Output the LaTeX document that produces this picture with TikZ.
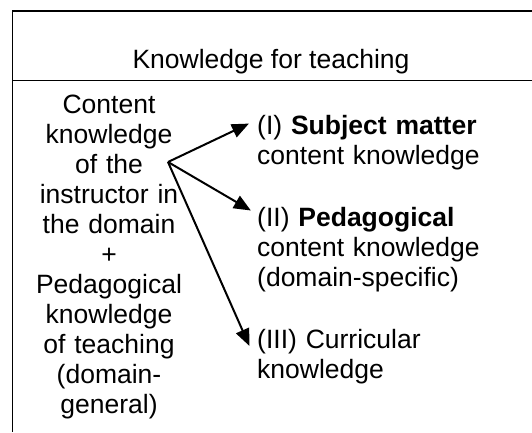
\documentclass[tikz,border=0pt]{standalone}
\usepackage{fontspec}
\setmainfont{Liberation Sans}
\usetikzlibrary{arrows.meta}
\begin{document}
\begin{tikzpicture}[x=1pt,y=-1pt,
  txt/.style={font=\fontsize{26.5}{30}\selectfont, inner sep=0pt},
  rule/.style={line width=1.8pt},
  branch/.style={line width=2pt, -{Triangle[length=17pt,width=14pt]}, shorten >=-1pt}]
\useasboundingbox (0,0) rectangle (532,432);
% table frame: top rule, header divider and left edge
\draw[rule] (12,11) -- (532,11);
\draw[rule] (12,80.5) -- (532,80.5);
\draw[line width=1.2pt] (12.5,10.1) -- (12.5,432);
% header
\node[txt, anchor=base] (head) at (271,68) {Knowledge for teaching};
% left column
\node[txt, anchor=base, text width=200pt, align=center] (base) at (109,113)
  {Content\\knowledge\\of the\\instructor in\\the domain\\+\\Pedagogical\\knowledge\\of teaching\\(domain-\\general)};
% right column
\node[txt, anchor=base west, text width=270pt, align=left] (smk) at (257,134)
  {(I) \textbf{Subject matter}\\content knowledge};
\node[txt, anchor=base west, text width=270pt, align=left] (pck) at (257,226)
  {(II) \textbf{Pedagogical}\\content knowledge\\(domain-specific)};
\node[txt, anchor=base west, text width=270pt, align=left] (cur) at (257,348)
  {(III) Curricular\\knowledge};
% branching arrows
\coordinate (fork) at (168,162);
\coordinate (tipA) at (248,124);
\coordinate (tipB) at (250,210);
\coordinate (tipC) at (249,345);
\draw[branch] (fork) -- (tipA);
\draw[branch] (fork) -- (tipB);
\draw[branch] (fork) -- (tipC);
\end{tikzpicture}
\end{document}
